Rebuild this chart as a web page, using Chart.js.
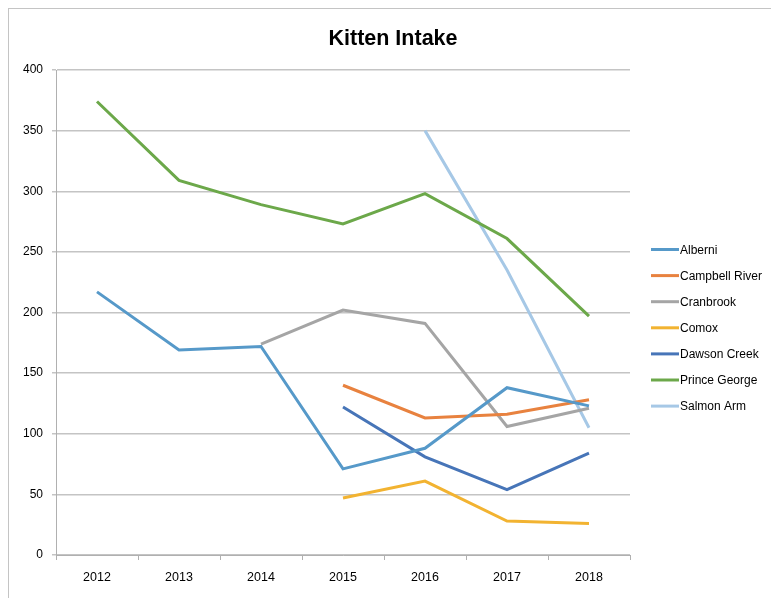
<!DOCTYPE html>
<html lang="en">
<head>
<meta charset="UTF-8" />
<title>Kitten Intake</title>
<script src="https://cdn.jsdelivr.net/npm/chart.js"></script>
<style>
  html, body { margin: 0; padding: 0; background: #fff; overflow: hidden; }
  #wrap { position: relative; width: 771px; height: 598px; overflow: hidden; }
  #frame { position: absolute; left: 8px; top: 8px; width: 800px; height: 700px; border: 1px solid #c4c4c4; }
  canvas { position: absolute; left: 0; top: 0; }
</style>
</head>
<body>

<div id="wrap">
  <div id="frame"></div>
  <canvas id="chart" width="771" height="598"></canvas>
</div>

<script>
// years on the x axis
const years = ["2012", "2013", "2014", "2015", "2016", "2017", "2018"];

// kittens taken in per shelter (null = no data that year)
const alberni       = [217, 169, 172, 71, 88, 138, 123];
const campbellRiver = [null, null, null, 140, 113, 116, 128];
const cranbrook     = [null, null, 174, 202, 191, 106, 121];
const comox         = [null, null, null, 47, 61, 28, 26];
const dawsonCreek   = [null, null, null, 122, 81, 54, 84];
const princeGeorge  = [374, 309, 289, 273, 298, 261, 197];
const salmonArm     = [null, null, null, null, 350, 235, 105];

const yTicks = [0, 50, 100, 150, 200, 250, 300, 350, 400];

const FONT = "'Liberation Sans', Arial, sans-serif";

function series(label, data, color) {
    return {
        label: label,
        data: data,
        borderColor: color,
        backgroundColor: color,
        borderWidth: 3,
        pointRadius: 0,
        tension: 0,
        spanGaps: false
    };
}

// title and legend drawn by hand so they sit where the original has them
const decor = {
    id: "decor",
    afterDraw(chart) {
        const ctx = chart.ctx;
        ctx.save();
        ctx.fillStyle = "#000";
        ctx.font = "bold 21.5px " + FONT;
        ctx.textAlign = "center";
        ctx.textBaseline = "middle";
        ctx.fillText("Kitten Intake", 393, 39);

        ctx.font = "12px " + FONT;
        ctx.textAlign = "left";
        chart.data.datasets.forEach((ds, i) => {
            const y = 249.5 + i * 26.1;
            ctx.strokeStyle = ds.borderColor;
            ctx.lineWidth = 3;
            ctx.beginPath();
            ctx.moveTo(651, y);
            ctx.lineTo(679, y);
            ctx.stroke();
            ctx.fillStyle = "#000";
            ctx.fillText(ds.label, 680, y + 1);
        });
        ctx.restore();
    }
};

new Chart(document.getElementById("chart").getContext("2d"), {
    type: "line",
    data: {
        labels: years,
        datasets: [
            series("Alberni", alberni, "#5699C9"),
            series("Campbell River", campbellRiver, "#E8823F"),
            series("Cranbrook", cranbrook, "#A5A5A5"),
            series("Comox", comox, "#F2B331"),
            series("Dawson Creek", dawsonCreek, "#4775B8"),
            series("Prince George", princeGeorge, "#6CA84A"),
            series("Salmon Arm", salmonArm, "#A6C8E6")
        ]
    },
    options: {
        responsive: false,
        animation: false,
        devicePixelRatio: 1,
        layout: { padding: { left: 0, top: 70, right: 141, bottom: 0 } },
        plugins: {
            legend: { display: false },
            title: { display: false },
            tooltip: { enabled: false }
        },
        scales: {
            x: {
                offset: true,
                grid: {
                    offset: true,
                    drawOnChartArea: false,
                    drawTicks: true,
                    tickLength: 5,
                    color: "#b0b0b0"
                },
                border: { color: "#b0b0b0", width: 1 },
                ticks: {
                    color: "#000",
                    font: { family: FONT, size: 12.5 },
                    padding: 10,
                    maxRotation: 0
                },
                afterFit(scale) { scale.height = 43; }
            },
            y: {
                min: 0,
                max: 400,
                afterBuildTicks(scale) { scale.ticks = yTicks.map(v => ({ value: v })); },
                grid: {
                    color: "#c4c4c4",
                    lineWidth: 1.5,
                    tickLength: 4
                },
                border: { color: "#b0b0b0", width: 1 },
                ticks: {
                    color: "#000",
                    font: { family: FONT, size: 12 },
                    padding: 9
                },
                afterFit(scale) { scale.width = 56; }
            }
        }
    },
    plugins: [decor]
});
</script>

</body>
</html>
